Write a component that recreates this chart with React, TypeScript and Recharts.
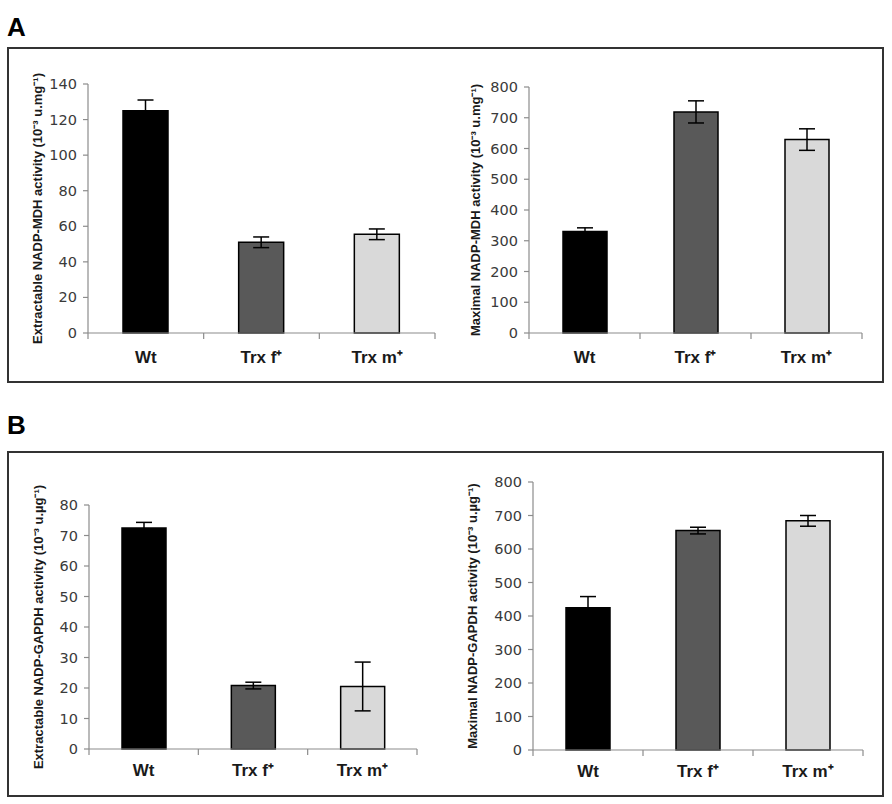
import React from 'react';
import { BarChart, Bar, XAxis, YAxis, ErrorBar, Cell } from 'recharts';

const categories = ['Wt', 'Trx f⁺', 'Trx m⁺'];
const barColors = ['#000000', '#595959', '#d9d9d9'];

const mdhExtractable = [125, 51, 55.5];
const mdhExtractableErr = [6, 3, 3];
const mdhMaximal = [330, 719, 629];
const mdhMaximalErr = [12, 36, 35];

const gapdhExtractable = [72.5, 20.8, 20.5];
const gapdhExtractableErr = [1.8, 1.1, 8];
const gapdhMaximal = [425, 655, 684];
const gapdhMaximalErr = [33, 10, 16];

const ticks140 = [0, 20, 40, 60, 80, 100, 120, 140];
const ticks800 = [0, 100, 200, 300, 400, 500, 600, 700, 800];
const ticks80 = [0, 10, 20, 30, 40, 50, 60, 70, 80];

const AXIS_GREY = '#8c8c8c';

interface PanelChartProps {
  values: number[];
  errors: number[];
  ticks: number[];
  yLabel: string;
  left: number;
  top: number;
  width: number;
  height: number;
  margin: { top: number; right: number; bottom: number; left: number };
  barSize: number;
  labelX: number;
  xLabelDy: number;
}

const XTick = (props: any) => {
  const { x, y, payload, index, count, dy } = props;
  const off = payload.offset ?? 0;
  return (
    <g>
      <line x1={x - off} y1={y} x2={x - off} y2={y + 6} stroke={AXIS_GREY} strokeWidth={1.2} />
      {index === count - 1 && (
        <line x1={x + off} y1={y} x2={x + off} y2={y + 6} stroke={AXIS_GREY} strokeWidth={1.2} />
      )}
      <text
        x={x}
        y={y + dy}
        textAnchor="middle"
        fontFamily="Liberation Sans, Arial, sans-serif"
        fontWeight="bold"
        fontSize={17}
        fill="#1a1a1a"
      >
        {payload.value}
      </text>
    </g>
  );
};

// y tick labels drawn directly so the font is exactly what we ask for
const YTick = (props: any) => {
  const { x, y, payload } = props;
  return (
    <text
      x={x}
      y={y}
      textAnchor="end"
      dominantBaseline="central"
      fontFamily="DejaVu Sans, Verdana, sans-serif"
      fontSize={14.5}
      fill="#3a3a3a"
    >
      {payload.value}
    </text>
  );
};

const PanelChart: React.FC<PanelChartProps> = ({
  values, errors, ticks, yLabel, left, top, width, height, margin, barSize, labelX, xLabelDy,
}) => {
  const data = categories.map((name, i) => ({ name, value: values[i], err: errors[i] }));
  return (
    <div style={{ position: 'absolute', left, top, width, height }}>
      <BarChart width={width} height={height} data={data} margin={margin} barSize={barSize}>
        <XAxis
          dataKey="name"
          height={40}
          tickSize={0}
          tickMargin={0}
          tickLine={false}
          axisLine={{ stroke: AXIS_GREY, strokeWidth: 1.2 }}
          interval={0}
          tick={<XTick count={categories.length} dy={xLabelDy} />}
        />
        <YAxis
          width={46}
          domain={[ticks[0], ticks[ticks.length - 1]]}
          ticks={ticks}
          interval={0}
          tickSize={5}
          tickMargin={6}
          tickLine={{ stroke: AXIS_GREY, strokeWidth: 1.2 }}
          axisLine={{ stroke: AXIS_GREY, strokeWidth: 1.2 }}
          tick={<YTick />}
          label={{
            content: (p: any) => {
              const vb = p.viewBox || { x: 0, y: 0, width: 0, height: 0 };
              const cy = vb.y + vb.height / 2;
              return (
                <text
                  x={labelX}
                  y={cy}
                  transform={`rotate(-90, ${labelX}, ${cy})`}
                  textAnchor="middle"
                  dominantBaseline="central"
                  fontFamily="Liberation Sans, Arial, sans-serif"
                  fontWeight="bold"
                  fontSize={13}
                  fill="#1a1a1a"
                >
                  {yLabel}
                </text>
              );
            },
          }}
        />
        <Bar dataKey="value" stroke="#000" strokeWidth={1.5} isAnimationActive={false}>
          {data.map((entry, index) => (
            <Cell key={`cell-${index}`} fill={barColors[index]} />
          ))}
          <ErrorBar dataKey="err" width={8} stroke="#000" strokeWidth={1.5} isAnimationActive={false} />
        </Bar>
      </BarChart>
    </div>
  );
};

const boxStyle: React.CSSProperties = {
  position: 'absolute',
  left: 7,
  width: 877,
  border: '2px solid #333',
  boxSizing: 'border-box',
};

const letterStyle: React.CSSProperties = {
  position: 'absolute',
  left: 7,
  fontFamily: 'Liberation Sans, Arial, sans-serif',
  fontWeight: 'bold',
  fontSize: 26,
  lineHeight: '26px',
  color: '#000',
};

export default function App() {
  return (
    <div style={{ position: 'absolute', left: 0, top: 0, width: 892, height: 804, background: '#fff' }}>
      <div style={{ ...letterStyle, top: 14 }}>A</div>
      <div style={{ ...boxStyle, top: 47, height: 336 }} />
      <div style={{ ...letterStyle, top: 412 }}>B</div>
      <div style={{ ...boxStyle, top: 451, height: 346 }} />

      <PanelChart
        values={mdhExtractable}
        errors={mdhExtractableErr}
        ticks={ticks140}
        yLabel="Extractable NADP-MDH activity (10⁻³ u.mg⁻¹)"
        left={12}
        top={66}
        width={440}
        height={312}
        margin={{ top: 18, right: 17, bottom: 5, left: 30 }}
        barSize={45}
        labelX={25}
        xLabelDy={30}
      />
      <PanelChart
        values={mdhMaximal}
        errors={mdhMaximalErr}
        ticks={ticks800}
        yLabel="Maximal  NADP-MDH activity (10⁻³ u.mg⁻¹)"
        left={450}
        top={66}
        width={430}
        height={312}
        margin={{ top: 21, right: 18, bottom: 5, left: 33 }}
        barSize={44}
        labelX={25}
        xLabelDy={30}
      />
      <PanelChart
        values={gapdhExtractable}
        errors={gapdhExtractableErr}
        ticks={ticks80}
        yLabel="Extractable NADP-GAPDH  activity (10⁻³ u.µg⁻¹)"
        left={12}
        top={470}
        width={420}
        height={324}
        margin={{ top: 35, right: 15, bottom: 5, left: 31 }}
        barSize={44}
        labelX={26}
        xLabelDy={27}
      />
      <PanelChart
        values={gapdhMaximal}
        errors={gapdhMaximalErr}
        ticks={ticks800}
        yLabel="Maximal  NADP-GAPDH  activity (10⁻³ u.µg⁻¹)"
        left={450}
        top={470}
        width={430}
        height={325}
        margin={{ top: 12, right: 17, bottom: 5, left: 37 }}
        barSize={44}
        labelX={22}
        xLabelDy={27}
      />
    </div>
  );
}
